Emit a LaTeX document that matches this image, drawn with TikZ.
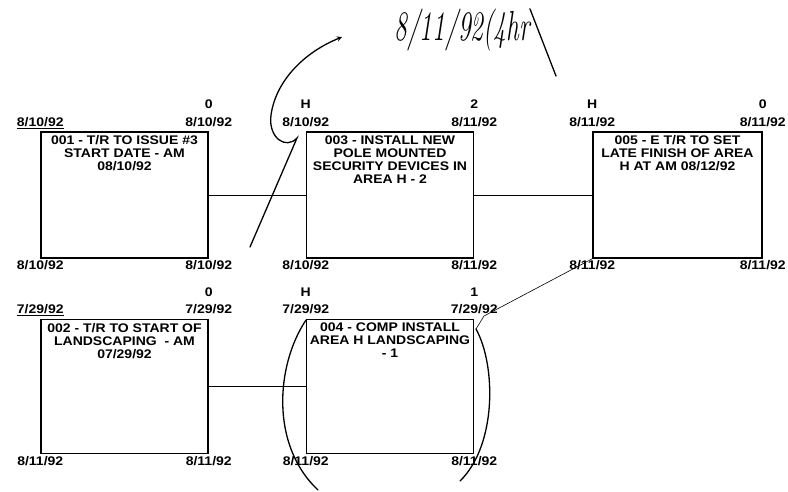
\documentclass[tikz,border=0pt]{standalone}
\usepackage{fontspec}
\newfontfamily\pertfont{Liberation Sans}[FakeStretch=1.12]
\usetikzlibrary{positioning}

\begin{document}
\begin{tikzpicture}[x=1pt, y=-1pt, node distance=97pt, >=stealth]
    \tikzstyle{block}=[rectangle, draw, line width=1.5pt, minimum width=167pt, minimum height=126pt, inner sep=0pt]
    \tikzstyle{boxtext}=[align=center, inner sep=0pt, font=\pertfont\fontsize{12.5}{13}\selectfont\bfseries]
    \tikzstyle{date}=[inner sep=0pt, text height=9pt, text depth=0pt, font=\pertfont\fontsize{12.5}{13}\selectfont\bfseries]
    \tikzstyle{hand}=[line width=1.3pt, line cap=round]

    \useasboundingbox (0,0) rectangle (788,491);

    % activity boxes
    \node[block] (act001) at (124.5,195) {};
    \node[block, right=of act001] (act003) {};
    \node[block, right=118pt of act003, minimum width=169pt] (act005) {};
    \node[block, below=60pt of act001, minimum height=134pt] (act002) {};
    \node[block, right=of act002, minimum height=134pt] (act004) {};

    \node[boxtext, below=4pt of act001.north] (txt001) {001 - T/R TO ISSUE \#3\\START DATE - AM\\08/10/92};
    \node[boxtext, below=4pt of act003.north] (txt003) {003 - INSTALL NEW\\POLE MOUNTED\\SECURITY DEVICES IN\\AREA H - 2};
    \node[boxtext, below=4pt of act005.north] (txt005) {005 - E T/R TO SET\\LATE FINISH OF AREA\\H AT AM 08/12/92};
    \node[boxtext, below=4pt of act002.north] (txt002) {002 - T/R TO START OF\\LANDSCAPING \ - AM\\07/29/92};
    \node[boxtext, below=4pt of act004.north] (txt004) {004 - COMP INSTALL\\AREA H LANDSCAPING\\- 1};

    % dates on the corners
    \node[date, above=5pt of act001.north west] (tl001) {\underline{8/10/92}};
    \node[date, above=5pt of act001.north east] (tr001) {8/10/92};
    \node[date, above=8pt of tr001] (fl001) {0};
    \node[date, below=2pt of act001.south west] (bl001) {8/10/92};
    \node[date, below=2pt of act001.south east] (br001) {8/10/92};

    \node[date, above=5pt of act003.north west] (tl003) {8/10/92};
    \node[date, above=8pt of tl003] (cd003) {H};
    \node[date, above=5pt of act003.north east] (tr003) {8/11/92};
    \node[date, above=8pt of tr003] (fl003) {2};
    \node[date, below=2pt of act003.south west] (bl003) {8/10/92};
    \node[date, below=2pt of act003.south east] (br003) {8/11/92};

    \node[date, above=5pt of act005.north west] (tl005) {8/11/92};
    \node[date, above=8pt of tl005] (cd005) {H};
    \node[date, above=5pt of act005.north east] (tr005) {8/11/92};
    \node[date, above=8pt of tr005] (fl005) {0};
    \node[date, below=2pt of act005.south west] (bl005) {8/11/92};
    \node[date, below=2pt of act005.south east] (br005) {8/11/92};

    \node[date, above=5pt of act002.north west] (tl002) {\underline{7/29/92}};
    \node[date, above=5pt of act002.north east] (tr002) {7/29/92};
    \node[date, above=8pt of tr002] (fl002) {0};
    \node[date, below=2pt of act002.south west] (bl002) {8/11/92};
    \node[date, below=2pt of act002.south east] (br002) {8/11/92};

    \node[date, above=5pt of act004.north west] (tl004) {7/29/92};
    \node[date, above=8pt of tl004] (cd004) {H};
    \node[date, above=5pt of act004.north east] (tr004) {7/29/92};
    \node[date, above=8pt of tr004] (fl004) {1};
    \node[date, below=2pt of act004.south west] (bl004) {8/11/92};
    \node[date, below=2pt of act004.south east] (br004) {8/11/92};

    \draw[semithick] (act001) -- (act003);
    \draw[semithick] (act003) -- (act005);
    \draw[semithick] (act002) -- (act004);

    % pen marks
    \node[inner sep=0pt, font=\itshape\fontsize{30}{30}\selectfont] (note) at (462,30) {\scalebox{0.85}[1.4]{8/11/92(4hr}};
    \draw[hand] (note.north east) -- (556,76);

    \coordinate (pen) at (250,247);
    \coordinate (tip) at (342,37);
    \draw[hand, ->] (pen) -- (297,138) .. controls (286,150) and (268,138) .. (271,115) .. controls (276,80) and (305,52) .. (tip);

    \coordinate (hook) at (476,329);
    \draw[semithick] (act005.south west) -- (484,316) -- (hook);
    \draw[hand] (306,320) .. controls (276,365) and (270,445) .. (318,490);
    \draw[hand] (hook) .. controls (496,365) and (497,445) .. (460,481);
\end{tikzpicture}
\end{document}
